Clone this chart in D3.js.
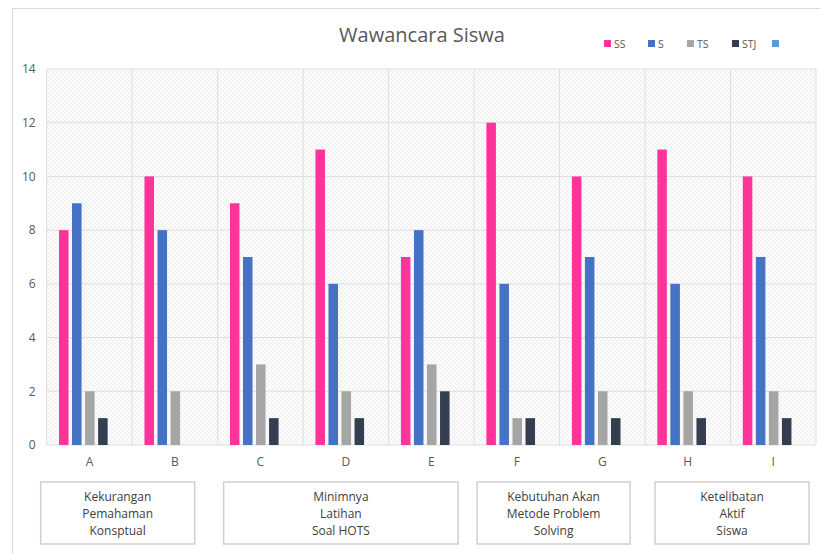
<!DOCTYPE html>
<html lang="id">
<head>
<meta charset="UTF-8">
<title>Wawancara Siswa</title>
<style>
  body { margin: 0; background: #fff; }
  svg text { font-family: "Open Sans", "DejaVu Sans", sans-serif; }
</style>
</head>
<body>
<script src="https://d3js.org/d3.v7.min.js"></script>
<script>
// data
var categories = ["A", "B", "C", "D", "E", "F", "G", "H", "I"];
var seriesNames = ["SS", "S", "TS", "STJ", ""];
var ssValues  = [8, 10, 9, 11, 7, 12, 10, 11, 10];
var sValues   = [9, 8, 7, 6, 8, 6, 7, 6, 7];
var tsValues  = [2, 2, 3, 2, 3, 1, 2, 2, 2];
var stjValues = [1, 0, 1, 1, 2, 1, 1, 1, 1];
var extraValues = [0, 0, 0, 0, 0, 0, 0, 0, 0];
var yTicks = [0, 2, 4, 6, 8, 10, 12, 14];
var groupLabels = [
  ["Kekurangan", "Pemahaman", "Konsptual"],
  ["Minimnya", "Latihan", "Soal HOTS"],
  ["Kebutuhan Akan", "Metode Problem", "Solving"],
  ["Ketelibatan", "Aktif", "Siswa"]
];
var groupFirst = ["A", "C", "F", "H"];
var groupLast  = ["B", "E", "G", "I"];

var colors = ["#ff3399", "#4472c4", "#a5a5a5", "#333f50", "#5b9bd5"];
var allValues = [ssValues, sValues, tsValues, stjValues, extraValues];

var width = 820, height = 554;
var margin = {top: 69, right: 4, bottom: 109, left: 46.7};

var svg = d3.select("body").append("svg")
    .attr("width", width)
    .attr("height", height);

// hatch pattern for plot background
var defs = svg.append("defs");
var pat = defs.append("pattern")
    .attr("id", "hatch")
    .attr("patternUnits", "userSpaceOnUse")
    .attr("width", 4).attr("height", 4);
pat.append("rect").attr("width", 4).attr("height", 4).attr("fill", "#fcfcfc");
pat.append("path")
    .attr("d", "M-1,-1 L5,5 M-1,3 L1,5 M3,-1 L5,1")
    .attr("stroke", "#ebebeb").attr("stroke-width", 1);

// outer chart border
svg.append("rect")
    .attr("x", 12.5).attr("y", 8.5)
    .attr("width", 830).attr("height", 560)
    .attr("fill", "none").attr("stroke", "#d9d9d9");

var x0 = d3.scaleBand()
    .domain(categories)
    .range([margin.left, width - margin.right])
    .paddingInner(0).paddingOuter(0);

var bw = x0.bandwidth();
var x1 = d3.scaleBand()
    .domain(d3.range(seriesNames.length))
    .range([12.3, bw - 11.5])
    .paddingInner(0.27).paddingOuter(0);

var y = d3.scaleLinear()
    .domain([0, 14])
    .range([height - margin.bottom + 0, margin.top]);

var plot = svg.append("g");

plot.append("rect")
    .attr("x", margin.left).attr("y", margin.top)
    .attr("width", width - margin.right - margin.left)
    .attr("height", y(0) - margin.top)
    .attr("fill", "url(#hatch)");

// horizontal grid
plot.append("g").selectAll("line")
    .data(yTicks)
    .enter().append("line")
    .attr("x1", margin.left).attr("x2", width - margin.right)
    .attr("y1", function(d) { return y(d); })
    .attr("y2", function(d) { return y(d); })
    .attr("stroke", "#dedede").attr("stroke-width", 1);

// vertical grid
plot.append("g").selectAll("line")
    .data(categories.concat(["end"]))
    .enter().append("line")
    .attr("x1", function(d, i) { return margin.left + i * bw; })
    .attr("x2", function(d, i) { return margin.left + i * bw; })
    .attr("y1", margin.top).attr("y2", y(0))
    .attr("stroke", "#dedede").attr("stroke-width", 1);

// bars
var groups = plot.append("g").selectAll("g")
    .data(categories)
    .enter().append("g")
    .attr("transform", function(d) { return "translate(" + x0(d) + ",0)"; });

groups.selectAll("rect")
    .data(function(d, ci) {
        return allValues.map(function(vals, si) { return {s: si, v: vals[ci]}; });
    })
    .enter().append("rect")
    .attr("x", function(d) { return x1(d.s); })
    .attr("y", function(d) { return y(d.v); })
    .attr("width", x1.bandwidth())
    .attr("height", function(d) { return y(0) - y(d.v); })
    .attr("fill", function(d) { return colors[d.s]; });

// y axis labels
var yAxis = svg.append("g")
    .attr("transform", "translate(" + margin.left + ",0)")
    .call(d3.axisLeft(y).tickValues(yTicks).tickSize(0).tickPadding(11));
yAxis.select(".domain").remove();
yAxis.selectAll("text")
    .attr("fill", "#595959").style("font-size", "12px");

// x axis labels
var xAxis = svg.append("g")
    .attr("transform", "translate(0," + y(0) + ")")
    .call(d3.axisBottom(x0).tickSize(0).tickPadding(12));
xAxis.select(".domain").remove();
xAxis.selectAll("text")
    .attr("fill", "#595959").style("font-size", "12px");

// title
svg.append("text")
    .attr("x", 422).attr("y", 42)
    .attr("text-anchor", "middle")
    .attr("fill", "#595959")
    .style("font-size", "20px")
    .text("Wawancara Siswa");

// legend
var legendX = [604, 648, 687, 732, 772];
var legend = svg.append("g").selectAll("g")
    .data(seriesNames)
    .enter().append("g")
    .attr("transform", function(d, i) { return "translate(" + legendX[i] + ",40)"; });
legend.append("rect")
    .attr("width", 7).attr("height", 7)
    .attr("fill", function(d, i) { return colors[i]; });
legend.append("text")
    .attr("x", 10).attr("y", 7.5)
    .attr("fill", "#595959")
    .style("font-size", "10.5px")
    .text(function(d) { return d; });

// group label boxes below the axis
var boxNudge = [[-6, -23], [6, -16], [3, -15], [10, -7]];
var boxes = svg.append("g").selectAll("g")
    .data(groupLabels)
    .enter().append("g");
boxes.append("rect")
    .attr("x", function(d, i) { return x0(groupFirst[i]) + boxNudge[i][0]; })
    .attr("y", 482)
    .attr("width", function(d, i) {
        return x0(groupLast[i]) + bw + boxNudge[i][1] - (x0(groupFirst[i]) + boxNudge[i][0]);
    })
    .attr("height", 62)
    .attr("fill", "#fff")
    .attr("stroke", "#d0d0d0").attr("stroke-width", 1.5);
boxes.each(function(d, i) {
    var cx = (x0(groupFirst[i]) + boxNudge[i][0] + x0(groupLast[i]) + bw + boxNudge[i][1]) / 2;
    d3.select(this).selectAll("text")
        .data(d)
        .enter().append("text")
        .attr("x", cx)
        .attr("y", function(t, k) { return 501 + k * 17; })
        .attr("text-anchor", "middle")
        .attr("fill", "#404040")
        .style("font-size", "12px")
        .text(function(t) { return t; });
});
</script>
</body>
</html>
